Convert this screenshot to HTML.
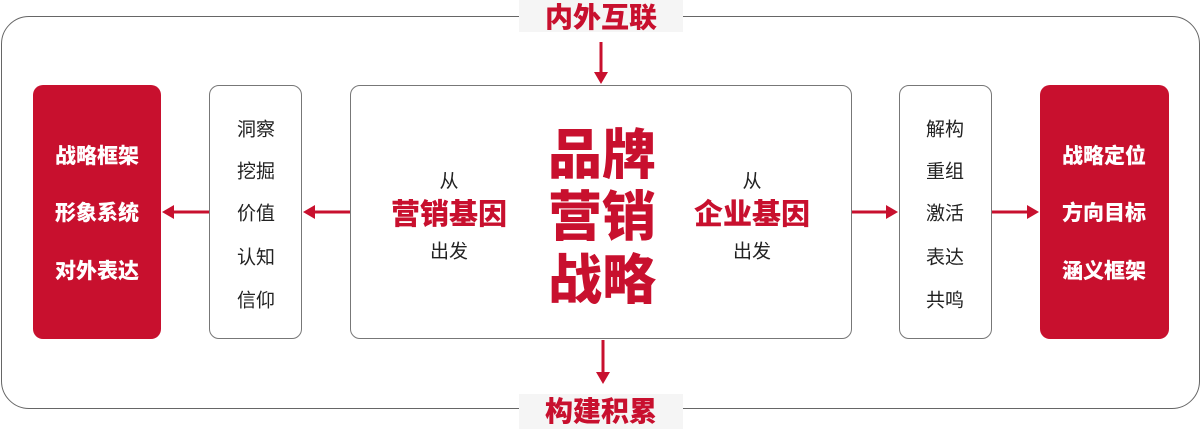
<!DOCTYPE html>
<html><head><meta charset="utf-8"><style>
body{margin:0;width:1202px;height:429px;background:#fff;position:relative;overflow:hidden;font-family:"Liberation Sans","Noto Sans CJK SC",sans-serif}
.a{position:absolute;box-sizing:border-box}
.t{position:absolute;transform:translate(-50%,-50%);white-space:nowrap}
.red{background:#c8102e;border-radius:10px}
.g{border:1.5px solid #777;border-radius:10px;background:#fff}
.w{color:#fff;font-weight:900;font-size:21px}
.k{color:#222;font-size:19px}
.r{color:#c8102e;font-weight:900}
</style></head><body>
<div class="a" style="left:1px;top:16px;width:1199px;height:393px;border:1.5px solid #666;border-radius:28px"></div>
<div class="a" style="left:519px;top:0;width:164px;height:32px;background:#f5f5f5"></div>
<div class="t r" style="left:601px;top:16px;font-size:28px">内外互联</div>
<div class="a" style="left:519px;top:394px;width:164px;height:35px;background:#f5f5f5"></div>
<div class="t r" style="left:601px;top:410px;font-size:28px">构建积累</div>
<div class="a red" style="left:33px;top:85px;width:128px;height:254px"></div>
<div class="a g" style="left:209px;top:85px;width:93px;height:254px"></div>
<div class="a g" style="left:350px;top:85px;width:502px;height:254px"></div>
<div class="a g" style="left:899px;top:85px;width:93px;height:254px"></div>
<div class="a red" style="left:1040px;top:85px;width:129px;height:254px"></div>
<svg class="a" style="left:0;top:0" width="1202" height="429">
<g stroke="#c8102e" stroke-width="3" fill="#c8102e">
<line x1="601" y1="42" x2="601" y2="74"/><polygon points="594,72 608,72 601,84" stroke="none"/>
<line x1="603" y1="340" x2="603" y2="374"/><polygon points="596,372 610,372 603,384" stroke="none"/>
<line x1="209" y1="212" x2="172" y2="212"/><polygon points="174,205 174,219 162,212" stroke="none"/>
<line x1="350" y1="212" x2="313" y2="212"/><polygon points="315,205 315,219 303,212" stroke="none"/>
<line x1="852" y1="212" x2="888" y2="212"/><polygon points="886,205 886,219 898,212" stroke="none"/>
<line x1="992" y1="212" x2="1029" y2="212"/><polygon points="1027,205 1027,219 1039,212" stroke="none"/>
</g></svg>
<div class="t w" style="left:97px;top:155px">战略框架</div>
<div class="t w" style="left:97px;top:212px">形象系统</div>
<div class="t w" style="left:97px;top:270px">对外表达</div>
<div class="t k" style="left:256px;top:128px">洞察</div>
<div class="t k" style="left:256px;top:170px">挖掘</div>
<div class="t k" style="left:256px;top:212px">价值</div>
<div class="t k" style="left:256px;top:256px">认知</div>
<div class="t k" style="left:256px;top:299px">信仰</div>
<div class="t k" style="left:945px;top:128px">解构</div>
<div class="t k" style="left:945px;top:170px">重组</div>
<div class="t k" style="left:945px;top:212px">激活</div>
<div class="t k" style="left:945px;top:256px">表达</div>
<div class="t k" style="left:945px;top:299px">共鸣</div>
<div class="t w" style="left:1104px;top:155px">战略定位</div>
<div class="t w" style="left:1104px;top:212px">方向目标</div>
<div class="t w" style="left:1104px;top:270px">涵义框架</div>
<div class="t r" style="left:602px;top:150px;font-size:54px">品牌</div>
<div class="t r" style="left:602px;top:212px;font-size:54px">营销</div>
<div class="t r" style="left:602px;top:275px;font-size:54px">战略</div>
<div class="t k" style="left:449px;top:180px">从</div>
<div class="t r" style="left:449px;top:212px;font-size:29px">营销基因</div>
<div class="t k" style="left:449px;top:250px">出发</div>
<div class="t k" style="left:752px;top:180px">从</div>
<div class="t r" style="left:752px;top:212px;font-size:29px">企业基因</div>
<div class="t k" style="left:752px;top:250px">出发</div>
</body></html>
